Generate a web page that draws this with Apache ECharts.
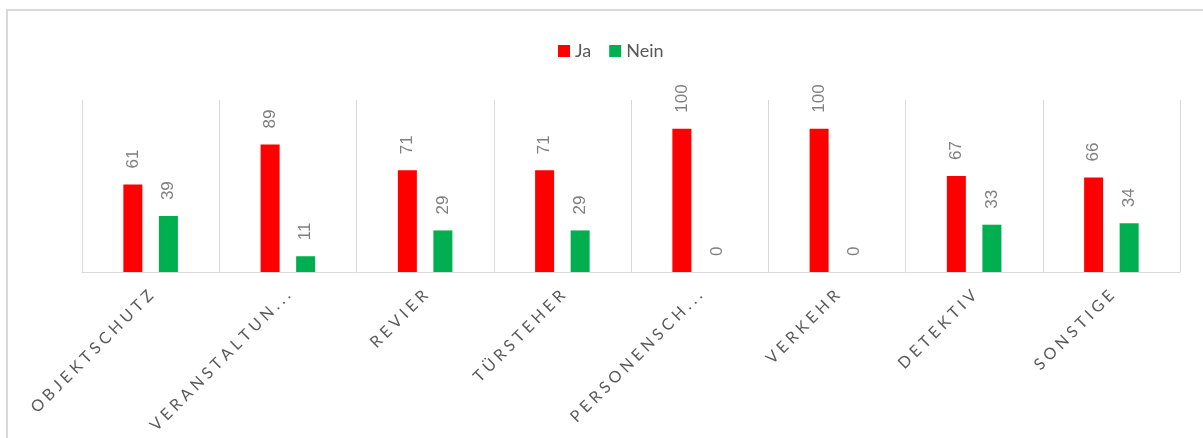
<!DOCTYPE html>
<html>
<head>
<meta charset="utf-8">
<script src="https://cdn.jsdelivr.net/npm/echarts@6/dist/echarts.min.js"></script>
<style>
  html, body { margin: 0; padding: 0; background: #ffffff; }
  #chart { width: 1203px; height: 438px; }
</style>
</head>
<body>
<div id="chart"></div>
<script>
// Kategorien (Einsatzbereiche) und Anteile in Prozent
const categories = ['Objektschutz', 'Veranstaltun...', 'Revier', 'Türsteher', 'Personensch...', 'Verkehr', 'Detektiv', 'Sonstige'];
const jaValues = [61, 89, 71, 71, 100, 100, 67, 66];
const neinValues = [39, 11, 29, 29, 0, 0, 33, 34];
const seriesNames = ['Ja', 'Nein'];

// Großbuchstaben mit Sperrung für die Achsenbeschriftung
function spaced(text) {
  return text.toUpperCase().split('').join('\u2009\u2009');
}

const valueLabel = {
  show: true,
  position: 'top',
  rotate: 90,
  align: 'left',
  verticalAlign: 'middle',
  distance: 16,
  color: '#808080',
  fontFamily: 'Liberation Sans',
  fontSize: 17
};

const chart = echarts.init(document.getElementById('chart'), null, { renderer: 'canvas' });
chart.setOption({
  animation: false,
  backgroundColor: '#ffffff',
  graphic: [{
    type: 'rect',
    shape: { x: 7, y: 10, width: 1300, height: 500 },
    style: { fill: 'none', stroke: '#d9d9d9', lineWidth: 2 },
    silent: true
  }],
  legend: {
    data: seriesNames,
    top: 37,
    left: 553,
    itemWidth: 12,
    itemHeight: 12,
    itemGap: 18,
    icon: 'rect',
    textStyle: { color: '#595959', fontSize: 18, fontFamily: 'Lato' }
  },
  grid: { left: 82, right: 23, top: 100, bottom: 166, containLabel: false },
  xAxis: {
    type: 'category',
    data: categories,
    axisLine: { show: true, lineStyle: { color: '#d9d9d9', width: 1 } },
    axisTick: { show: false },
    splitLine: { show: true, interval: 0, lineStyle: { color: '#d9d9d9', width: 1 } },
    axisLabel: {
      interval: 0,
      rotate: 45,
      margin: 21,
      color: '#595959',
      fontFamily: 'Lato',
      fontSize: 16,
      formatter: spaced
    }
  },
  yAxis: {
    type: 'value',
    min: 0,
    max: 120,
    show: false,
    splitLine: { show: false }
  },
  series: [
    {
      name: seriesNames[0],
      type: 'bar',
      data: jaValues,
      barWidth: 19,
      barGap: '87%',
      itemStyle: { color: '#ff0000' },
      label: valueLabel
    },
    {
      name: seriesNames[1],
      type: 'bar',
      data: neinValues,
      barWidth: 19,
      itemStyle: { color: '#00b050' },
      label: valueLabel
    }
  ]
});
</script>
</body>
</html>
